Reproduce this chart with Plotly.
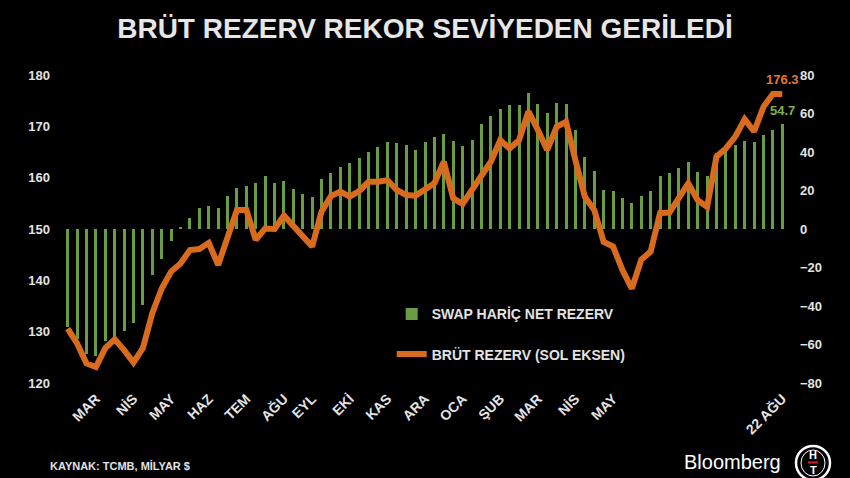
import plotly.graph_objects as go

# ---- data (weekly) ----
weeks = list(range(77))

net_reserve_ex_swap = [
    -51, -57, -65, -66, -58, -56, -53, -49, -39.5, -24,
    -15.5, -6, 1, 5.5, 10.7, 11.9, 10.7, 17.3, 21.5, 22.3,
    23.7, 27.7, 24.1, 25.1, 20.9, 18.0, 16.8, 25.8, 29.3, 32.4,
    34.1, 36.7, 39.8, 42.4, 45.0, 44.5, 43.6, 41.0, 45.0, 47.6,
    49.4, 45.9, 43.3, 46.2, 54.4, 58.7, 62.3, 64.4, 64.4, 70.8,
    64.9, 60.1, 65.3, 64.9, 51.4, 37.2, 30.3, 20.3, 19.7, 15.9,
    13.4, 17.3, 19.7, 27.5, 29.3, 31.8, 34.6, 29.5, 27.5, 39.3,
    41.0, 43.6, 45.9, 45.0, 48.8, 51.4, 54.7,
]

gross_reserve = [
    130.6, 127.7, 123.8, 123.1, 126.8, 128.5, 126.4, 124.0, 126.8, 133.6,
    138.4, 141.7, 143.3, 145.9, 146.1, 147.3, 143.0, 148.5, 153.7, 153.7,
    147.9, 150.1, 150.0, 152.6, 150.5, 148.8, 146.6, 153.4, 156.4, 157.3,
    156.3, 157.4, 159.2, 159.2, 159.5, 157.6, 156.6, 156.5, 157.6, 158.9,
    163.1, 156.0, 154.9, 157.6, 160.2, 163.1, 167.3, 165.7, 167.3, 172.9,
    169.3, 165.4, 169.9, 170.9, 163.4, 156.3, 153.7, 147.5, 146.6, 142.0,
    138.4, 144.0, 145.6, 153.1, 153.2, 156.0, 158.9, 155.6, 154.3, 164.1,
    165.7, 168.0, 171.4, 169.0, 173.8, 176.3, 176.3,
]

month_tick_weeks = [3, 7, 11, 15, 19, 23, 26, 30, 34, 38, 42, 46, 50, 54, 58, 76]
month_labels = ["MAR", "NİS", "MAY", "HAZ", "TEM", "AĞU", "EYL", "EKİ", "KAS",
                "ARA", "OCA", "ŞUB", "MAR", "NİS", "MAY", "22 AĞU"]

bar_name = "SWAP HARİÇ NET REZERV"
line_name = "BRÜT REZERV (SOL EKSEN)"

# ---- styles ----
FONT = "Liberation Sans, Arial, sans-serif"
TXT = "#e3e3e3"
GREEN = "#6a9c43"
ORANGE = "#d96b1e"

fig = go.Figure()
fig.add_trace(go.Bar(
    x=weeks, y=net_reserve_ex_swap, name=bar_name, yaxis="y",
    marker=dict(color=GREEN, line=dict(width=0)), width=0.32,
    legendgroup="a",
))
fig.add_trace(go.Scatter(
    x=weeks, y=gross_reserve, name=line_name, yaxis="y2", mode="lines",
    line=dict(color=ORANGE, width=6), legendgroup="b",
))

fig.update_layout(
    width=850, height=478,
    paper_bgcolor="black", plot_bgcolor="black",
    margin=dict(l=63, r=63, t=75, b=95),
    font=dict(family=FONT, color=TXT, size=13, weight="bold"),
    title=dict(
        text="BRÜT REZERV REKOR SEVİYEDEN GERİLEDİ",
        x=0.5, xref="container", xanchor="center",
        y=1 - 28 / 478, yref="container", yanchor="middle",
        font=dict(family=FONT, size=28, color="#e6e6e6", weight="bold"),
    ),
    showlegend=True,
    legend=dict(
        x=0.454, y=0.275, xanchor="left", yanchor="top",
        bgcolor="rgba(0,0,0,0)", tracegroupgap=19,
        font=dict(family=FONT, size=14, color=TXT, weight="bold"),
        traceorder="grouped",
    ),
    xaxis=dict(
        range=[-0.5, 76.5], tickmode="array", tickvals=month_tick_weeks,
        ticktext=month_labels, tickangle=-45, showgrid=False, zeroline=False,
        showline=False, ticks="", ticklabelstandoff=4,
        tickfont=dict(size=14, color=TXT),
    ),
    yaxis=dict(
        side="right", range=[-80, 80], dtick=20, showgrid=False,
        zeroline=False, showline=False, ticks="", ticklabelstandoff=12,
        tickfont=dict(size=13, color=TXT),
    ),
    yaxis2=dict(
        overlaying="y", side="left", range=[120, 180], dtick=10,
        showgrid=False, zeroline=False, showline=False, ticks="",
        ticklabelstandoff=12, tickfont=dict(size=13, color=TXT),
    ),
    bargap=0,
)

annotations = [
    dict(x=weeks[-1], y=gross_reserve[-1], xref="x", yref="y2",
         text=f"{gross_reserve[-1]:.1f}", showarrow=False, yshift=14,
         font=dict(color="#e07a2e", size=13, family=FONT, weight="bold")),
    dict(x=weeks[-1], y=net_reserve_ex_swap[-1], xref="x", yref="y",
         text=f"{net_reserve_ex_swap[-1]:.1f}", showarrow=False, yshift=13,
         font=dict(color="#7db04a", size=13, family=FONT, weight="bold")),
    dict(x=(48 - 63) / 724, y=(383 - 466) / 308, xref="paper", yref="paper",
         xanchor="left", yanchor="middle", showarrow=False,
         text="KAYNAK: TCMB, MİLYAR $",
         font=dict(size=11, color=TXT, family=FONT, weight="bold")),
    dict(x=(682 - 63) / 724, y=(383 - 462) / 308, xref="paper", yref="paper",
         xanchor="left", yanchor="middle", showarrow=False, text="Bloomberg",
         font=dict(size=20, color="white", family=FONT, weight="normal")),
    dict(x=(813 - 63) / 724, y=(383 - 455) / 308, xref="paper", yref="paper",
         xanchor="center", yanchor="middle", showarrow=False, text="H",
         font=dict(size=11, color="white", family=FONT, weight="bold")),
    dict(x=(813 - 63) / 724, y=(383 - 470) / 308, xref="paper", yref="paper",
         xanchor="center", yanchor="middle", showarrow=False, text="T",
         font=dict(size=11, color="white", family=FONT, weight="bold")),
]
fig.update_layout(annotations=annotations)

fig.add_shape(type="circle", xref="paper", yref="paper",
              x0=(796 - 63) / 724, x1=(830 - 63) / 724,
              y0=(383 - 480) / 308, y1=(383 - 446) / 308,
              line=dict(color="white", width=2.5))
fig.add_shape(type="circle", xref="paper", yref="paper",
              x0=(801 - 63) / 724, x1=(825 - 63) / 724,
              y0=(383 - 476) / 308, y1=(383 - 450) / 308,
              line=dict(color="white", width=1))
fig.add_shape(type="line", xref="paper", yref="paper",
              x0=(808 - 63) / 724, x1=(818 - 63) / 724,
              y0=(383 - 462.5) / 308, y1=(383 - 462.5) / 308,
              line=dict(color="#d0202a", width=2))

fig.write_html("out.html")
